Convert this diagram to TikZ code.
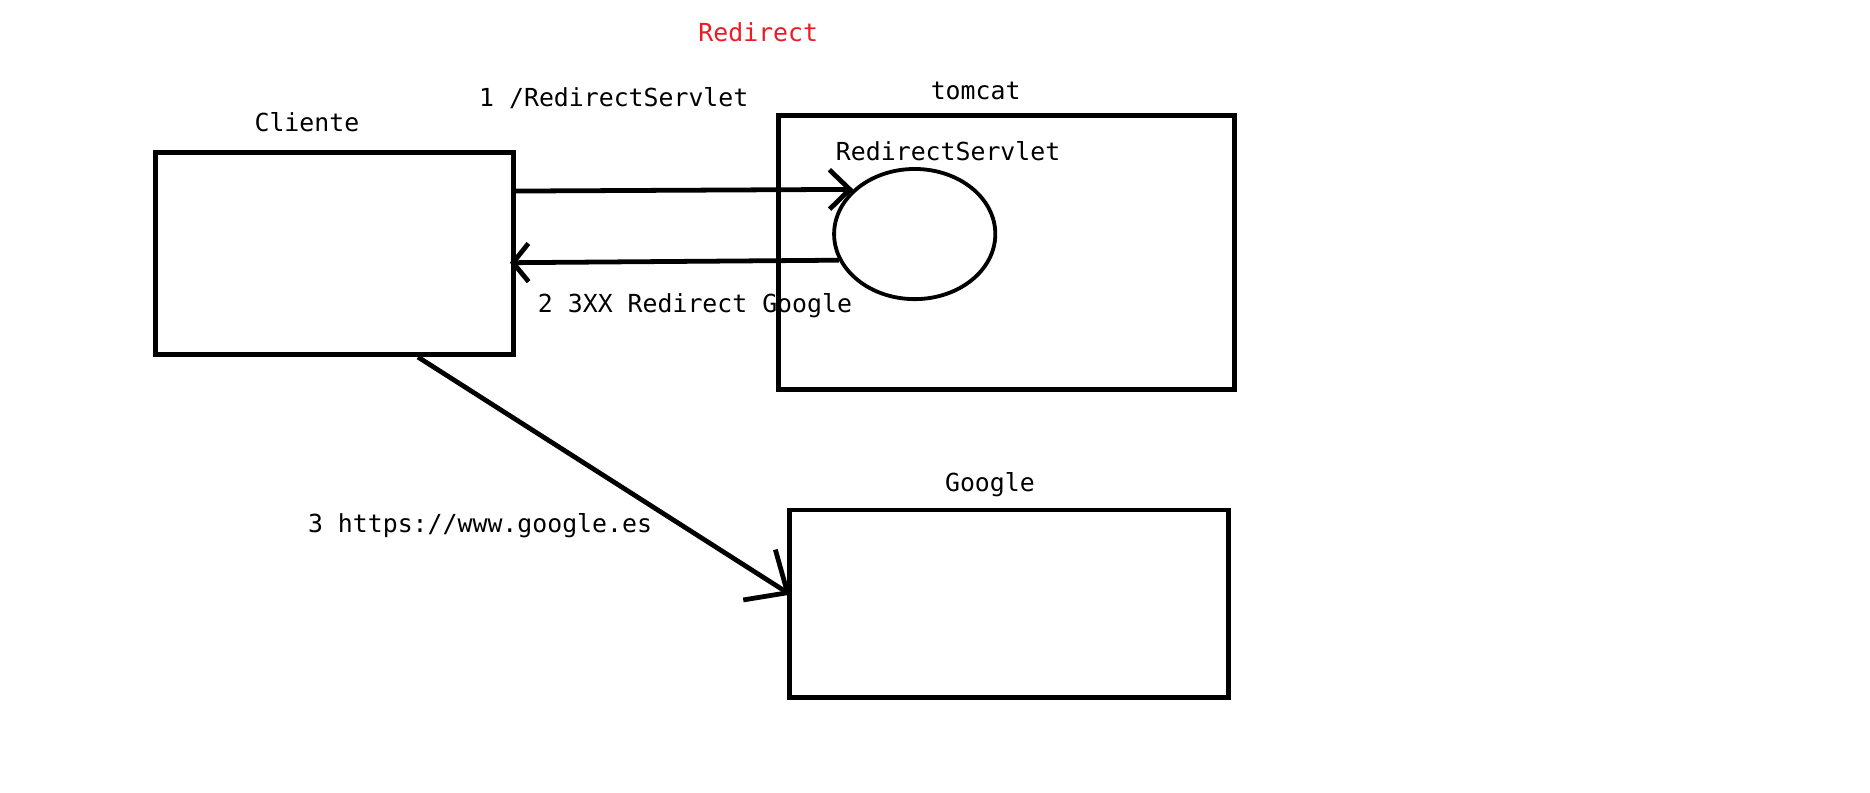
\documentclass[tikz,border=0pt]{standalone}
\usepackage{fontspec}
\setmonofont{DejaVu Sans Mono}
\usetikzlibrary{arrows.meta,shapes.geometric}
\definecolor{paintred}{HTML}{ED1C24}
\begin{document}
\begin{tikzpicture}[x=0.5pt,y=-0.5pt,
  box/.style={draw,line width=2pt,inner sep=0pt},
  lbl/.style={font=\ttfamily\fontsize{10.4}{12}\selectfont,anchor=base,inner sep=0pt},
  conn/.style={line width=2pt}]
\useasboundingbox[fill=white] (0,0) rectangle (1566,663.3);
% boxes
\node[box,minimum width=150pt,minimum height=84.5pt] (cliente) at (280,212.5) {};
\node[box,minimum width=191pt,minimum height=114.5pt] (tomcat) at (843,211.5) {};
\node[box,minimum width=184pt,minimum height=78.5pt] (google) at (845,505.5) {};
\node[draw,ellipse,line width=1.6pt,inner sep=0pt,minimum width=67.5pt,minimum height=54.5pt] (servlet) at (766,196) {};
% labels
\node[lbl,text=paintred] (title) at (635,35) {Redirect};
\node[lbl] (l1) at (514,89) {1 /RedirectServlet};
\node[lbl] (lcliente) at (257,110) {Cliente};
\node[lbl] (ltomcat) at (817,83) {tomcat};
\node[lbl] (lservlet) at (794,134) {RedirectServlet};
\node[lbl] (l2) at (582,262) {2 3XX Redirect Google};
\node[lbl] (lgoogle) at (829,412) {Google};
\node[lbl] (l3) at (402,446) {3 https://www.google.es};
% connectors
\draw[conn,-{Straight Barb[length=8.5pt,width=16.5pt,line width=2pt]}] ([yshift=26.25pt]cliente.east) -- (servlet.144);
\draw[conn,-{Straight Barb[length=6.5pt,width=16pt,line width=2pt]}] (servlet.199) -- ([yshift=-3.75pt,xshift=-2.5pt]cliente.east);
\draw[conn,-{Straight Barb[length=14pt,width=25pt,line width=2pt]}] ([xshift=35pt]cliente.south) -- ([yshift=3.75pt,xshift=1.5pt]google.west);
\end{tikzpicture}
\end{document}
